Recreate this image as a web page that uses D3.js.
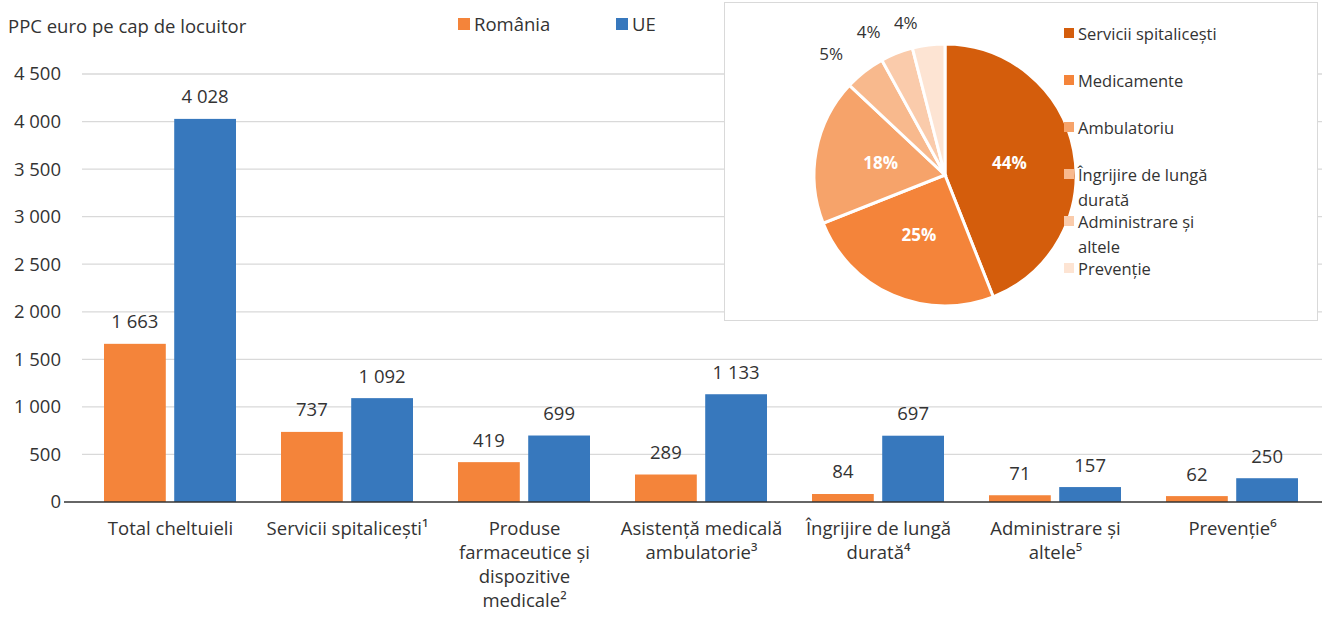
<!DOCTYPE html>
<html>
<head>
<meta charset="utf-8">
<script src="https://cdn.jsdelivr.net/npm/d3@7"></script>
<style>
body { margin: 0; background: #fff; }
svg text { font-family: "Open Sans", sans-serif; fill: #333; }
</style>
</head>
<body>
<div id="chart"></div>
<script>
// date
var categorii = [
    ["Total cheltuieli"],
    ["Servicii spitalicești¹"],
    ["Produse", "farmaceutice și", "dispozitive", "medicale²"],
    ["Asistență medicală", "ambulatorie³"],
    ["Îngrijire de lungă", "durată⁴"],
    ["Administrare și", "altele⁵"],
    ["Prevenție⁶"]
];
var romania = [1663, 737, 419, 289, 84, 71, 62];
var ue = [4028, 1092, 699, 1133, 697, 157, 250];
var yTicks = [0, 500, 1000, 1500, 2000, 2500, 3000, 3500, 4000, 4500];
var serii = ["România", "UE"];

var pieNume = [["Servicii spitalicești"], ["Medicamente"], ["Ambulatoriu"], ["Îngrijire de lungă", "durată"], ["Administrare și", "altele"], ["Prevenție"]];
var pieProcente = [44, 25, 18, 5, 4, 4];
var pieCulori = ["#d45d0c", "#f4843a", "#f6a36a", "#f8b98d", "#facbab", "#fde4d3"];

var width = 1322, height = 618;
var fs = "18.5px";
var svg = d3.select("#chart").append("svg")
    .attr("width", width).attr("height", height);

function fmt(v) {
    // separator de mii cu spatiu
    var s = String(v);
    return s.length > 3 ? s.slice(0, s.length - 3) + " " + s.slice(-3) : s;
}

var x0 = d3.scaleBand().domain(d3.range(categorii.length)).range([82, 1321]).paddingInner(0).paddingOuter(0);
var x1 = d3.scaleBand().domain([0, 1]).range([22, x0.bandwidth() - 23]).paddingInner(0.12);
var y = d3.scaleLinear().domain([0, 4500]).range([502, 74]);

// grila
svg.selectAll("line.grid").data(yTicks.slice(1)).enter().append("line")
    .attr("x1", 82).attr("x2", width)
    .attr("y1", function (d) { return y(d); })
    .attr("y2", function (d) { return y(d); })
    .style("stroke", "#d9d9d9").style("stroke-width", 1.3);

svg.selectAll("text.ytick").data(yTicks).enter().append("text")
    .attr("x", 61).attr("y", function (d) { return y(d); })
    .attr("dy", "0.35em").attr("text-anchor", "end")
    .style("font-size", fs)
    .text(function (d) { return fmt(d); });

svg.append("text").attr("x", 8).attr("y", 33).style("font-size", fs)
    .text("PPC euro pe cap de locuitor");

// bare
var grupuri = svg.selectAll("g.grup").data(categorii).enter().append("g")
    .attr("transform", function (d, i) { return "translate(" + x0(i) + ",0)"; });

[romania, ue].forEach(function (serie, s) {
    grupuri.append("rect")
        .attr("x", x1(s)).attr("width", x1.bandwidth())
        .attr("y", function (d, i) { return y(serie[i]); })
        .attr("height", function (d, i) { return y(0) - y(serie[i]); })
        .style("fill", s == 0 ? "#f4843a" : "#3778bd");
    grupuri.append("text")
        .attr("x", x1(s) + x1.bandwidth() / 2)
        .attr("y", function (d, i) { return y(serie[i]) - 22; })
        .attr("dy", "0.35em").attr("text-anchor", "middle")
        .style("font-size", fs)
        .text(function (d, i) { return fmt(serie[i]); });
});

grupuri.each(function (lines) {
    var t = d3.select(this).append("text").attr("text-anchor", "middle").style("font-size", fs);
    lines.forEach(function (l, k) {
        t.append("tspan").attr("x", x0.bandwidth() / 2).attr("y", 535 + k * 24).text(l);
    });
});

svg.append("line").attr("x1", 64).attr("x2", width).attr("y1", y(0)).attr("y2", y(0))
    .style("stroke", "#333").style("stroke-width", 1.5);

// legenda
var legX = [458, 616];
serii.forEach(function (n, i) {
    svg.append("rect").attr("x", legX[i]).attr("y", 18).attr("width", 12).attr("height", 12)
        .style("fill", i == 0 ? "#f4843a" : "#3778bd");
    svg.append("text").attr("x", legX[i] + 16).attr("y", 31).style("font-size", fs).text(n);
});

// grafic circular
svg.append("rect").attr("x", 724.5).attr("y", 2.5).attr("width", 593).attr("height", 318)
    .style("fill", "#fff").style("stroke", "#d9d9d9").style("stroke-width", 1);

var cx = 945, cy = 175, r = 131;
var pie = d3.pie().sort(null)(pieProcente);
var arc = d3.arc().innerRadius(0).outerRadius(r);
var arcInt = d3.arc().innerRadius(r * 0.5).outerRadius(r * 0.5);
var arcExt = d3.arc().innerRadius(r * 1.17).outerRadius(r * 1.17);
var gp = svg.append("g").attr("transform", "translate(" + cx + "," + cy + ")");
gp.selectAll("path").data(pie).enter().append("path")
    .attr("d", arc)
    .style("fill", function (d, i) { return pieCulori[i]; })
    .style("stroke", "#fff").style("stroke-width", 3);
gp.selectAll("text").data(pie).enter().append("text")
    .attr("transform", function (d, i) {
        var c = i < 3 ? arcInt.centroid(d) : arcExt.centroid(d);
        if (i >= 3) c[0] -= 20;
        return "translate(" + c + ")";
    })
    .attr("text-anchor", "middle").attr("dy", "0.35em")
    .style("font-size", "17px")
    .style("font-weight", function (d, i) { return i < 3 ? "bold" : "normal"; })
    .style("fill", function (d, i) { return i < 3 ? "#fff" : "#333"; })
    .text(function (d) { return d.data + "%"; });

var legY = [34, 81, 128, 175, 222, 269];
pieNume.forEach(function (lines, i) {
    svg.append("rect").attr("x", 1064).attr("y", legY[i] - 6).attr("width", 10).attr("height", 10)
        .style("fill", pieCulori[i]);
    var t = svg.append("text").style("font-size", "16.5px");
    lines.forEach(function (l, k) {
        t.append("tspan").attr("x", 1078).attr("y", legY[i] + k * 25).attr("dy", "0.35em").text(l);
    });
});
</script>
</body>
</html>
